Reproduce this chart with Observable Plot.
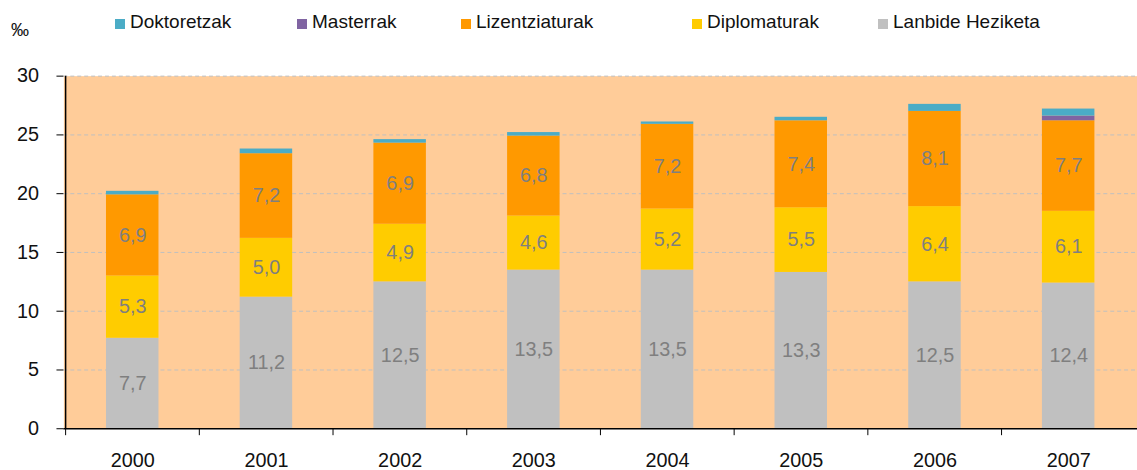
<!DOCTYPE html>
<html>
<head>
<meta charset="utf-8">
<script src="https://cdn.jsdelivr.net/npm/d3@7"></script>
<script src="https://cdn.jsdelivr.net/npm/@observablehq/plot@0.6"></script>
<style>
  body { margin: 0; background: #fff; overflow: hidden; font-family: "Liberation Sans", Arial, sans-serif; }
  #wrap { position: relative; width: 1137px; height: 470px; overflow: hidden; }
  #legend { position: absolute; left: 0; top: 0; width: 1137px; height: 40px; }
  .item { position: absolute; top: 0; height: 40px; white-space: nowrap; }
  .sw { position: absolute; left: 0; top: 19px; width: 10px; height: 10px; }
  .lt { position: absolute; left: 15px; top: 12px; font-size: 19px; line-height: 19px; color: #111; }
  #unit { position: absolute; left: 11px; top: 21px; font-size: 18px; line-height: 18px; color: #111; }
  #chart { position: absolute; left: 0; top: 40px; }
</style>
</head>
<body>
<div id="wrap">
  <div id="legend"><div id="unit">‰</div></div>
  <div id="chart"></div>
</div>
<script>
// ---- data ----
const years = ["2000", "2001", "2002", "2003", "2004", "2005", "2006", "2007"];
const seriesNames = ["Doktoretzak", "Masterrak", "Lizentziaturak", "Diplomaturak", "Lanbide Heziketa"];
const lanbide = [7.7, 11.2, 12.5, 13.5, 13.5, 13.3, 12.5, 12.4];
const diplomaturak = [5.3, 5.0, 4.9, 4.6, 5.2, 5.5, 6.4, 6.1];
const lizentziaturak = [6.9, 7.2, 6.9, 6.8, 7.2, 7.4, 8.1, 7.7];
const masterrak = [0, 0, 0, 0, 0, 0, 0, 0.4];
const doktoretzak = [0.3, 0.4, 0.3, 0.3, 0.2, 0.3, 0.6, 0.6];
const yTicks = [0, 5, 10, 15, 20, 25, 30];

// ---- styles ----
const colors = ["#4BACC6", "#8064A2", "#FF9900", "#FFCC00", "#C0C0C0"];
const legendX = [115, 297, 461, 692, 878];

const valuesBySeries = {
  "Doktoretzak": doktoretzak,
  "Masterrak": masterrak,
  "Lizentziaturak": lizentziaturak,
  "Diplomaturak": diplomaturak,
  "Lanbide Heziketa": lanbide
};
const stackOrder = ["Lanbide Heziketa", "Diplomaturak", "Lizentziaturak", "Masterrak", "Doktoretzak"];
const labeled = new Set(["Lanbide Heziketa", "Diplomaturak", "Lizentziaturak"]);

const data = [];
years.forEach((yr, i) => {
  stackOrder.forEach(s => data.push({year: yr, series: s, value: valuesBySeries[s][i]}));
});

const fmt = v => v.toFixed(1).replace(".", ",");

// legend
const legend = document.getElementById("legend");
seriesNames.forEach((s, i) => {
  const it = document.createElement("div");
  it.className = "item";
  it.style.left = legendX[i] + "px";
  it.innerHTML = `<span class="sw" style="background:${colors[i]}"></span><span class="lt">${s}</span>`;
  legend.appendChild(it);
});

const W = 1148, ML = 64, MR = 0;
const step = (W - ML - MR) / years.length;
const font = '"Liberation Sans", Arial, sans-serif';

const chart = Plot.plot({
  width: W,
  height: 430,
  marginLeft: ML,
  marginRight: MR,
  marginTop: 36,
  marginBottom: 38,
  style: {fontFamily: font, fontSize: "20px", color: "#111", background: "transparent", overflow: "visible"},
  x: {domain: years, paddingInner: 0.61, paddingOuter: 0.305, label: null},
  y: {domain: [0, 30], label: null},
  color: {domain: seriesNames, range: colors},
  marks: [
    Plot.frame({fill: "#FFCC99", stroke: "none"}),
    Plot.gridY(yTicks.filter(t => t > 0), {stroke: "#BFBFBF", strokeOpacity: 1, strokeDasharray: "4,3"}),
    Plot.barY(data, {x: "year", y: "value", z: "series", fill: "series", order: stackOrder}),
    Plot.text(data.filter(d => labeled.has(d.series)), Plot.stackY({
      x: "year", y: "value", z: "series", order: stackOrder,
      text: d => fmt(d.value), fill: "#7F7F7F", fontSize: 20
    })),
    Plot.axisY(yTicks, {tickSize: 7, tickPadding: 18, fontSize: 20, stroke: "#000"}),
    Plot.axisX({tickSize: 0, tickPadding: 24, fontSize: 20}),
    Plot.ruleY([0], {stroke: "#000", strokeWidth: 1.5}),
    Plot.ruleX(years, {x: d => d, y1: 0, y2: 0, insetBottom: -7, dx: -step / 2, stroke: "#000"}),
    Plot.ruleX([years[0]], {x: d => d, y1: 0, y2: 30, dx: -step / 2, stroke: "#000", strokeWidth: 1.5})
  ]
});
document.getElementById("chart").appendChild(chart);
</script>
</body>
</html>
